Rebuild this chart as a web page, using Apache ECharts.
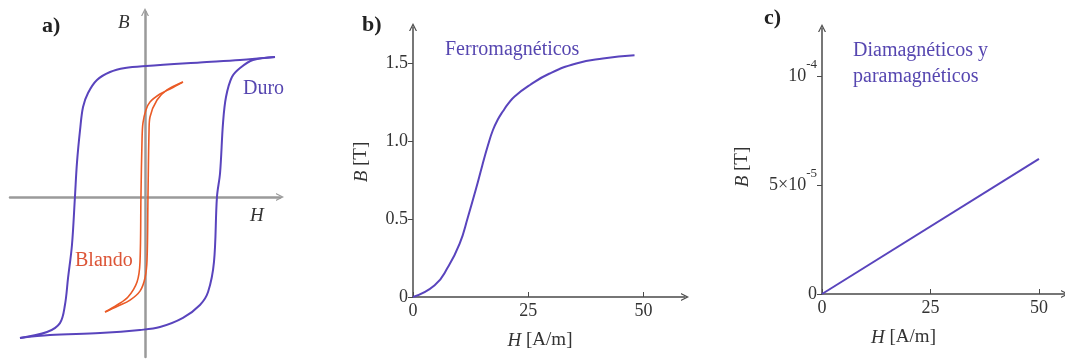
<!DOCTYPE html>
<html>
<head>
<meta charset="utf-8">
<script src="https://cdn.jsdelivr.net/npm/echarts@6/dist/echarts.min.js"></script>
<style>
  html, body { margin: 0; padding: 0; background: #fff; }
  #chart { width: 1065px; height: 360px; }
</style>
</head>
<body>
<div id="chart"></div>
<script>
// a) ciclos de histéresis, [H, B] en unidades arbitrarias
const duroBajada = [[9.63, 8.75], [7.04, 8.56], [4.07, 8.41], [0.07, 8.19], [-1.48, 8.06], [-2.59, 7.81], [-3.56, 7.31], [-4.22, 6.5], [-4.59, 5.63], [-4.81, 4.19], [-5.04, 2.13], [-5.19, 0], [-5.41, -3.0], [-5.7, -5.06], [-5.93, -6.75], [-6.3, -7.88], [-7.26, -8.44], [-9.26, -8.81]]
const duroSubida = [[-9.26, -8.81], [-7.04, -8.63], [-3.33, -8.5], [-0.37, -8.31], [1.11, -8.13], [2.81, -7.56], [4.07, -6.75], [4.67, -5.94], [5.11, -4.06], [5.33, 0], [5.56, 1.5], [5.78, 4.63], [6.0, 6.25], [6.44, 7.5], [7.04, 8.06], [8.0, 8.56], [9.63, 8.75]]
const blandoBajada = [[2.81, 7.19], [1.85, 6.75], [1.11, 6.44], [0.37, 5.94], [0.07, 5.44], [-0.15, 4.63], [-0.22, 3.56], [-0.3, 0], [-0.37, -4.06], [-0.59, -5.31], [-1.26, -6.25], [-2.07, -6.75], [-2.96, -7.19]]
const blandoSubida = [[-2.96, -7.19], [-2.0, -6.81], [-1.11, -6.44], [-0.37, -5.88], [0, -5.06], [0.15, -3.94], [0.22, 0], [0.3, 4.19], [0.37, 5.0], [0.89, 6.06], [1.63, 6.69], [2.81, 7.19]]

// b) curva de magnetización
const ferroH = [0, 4.7, 7.59, 10.12, 11.92, 13.73, 15.0, 16.26, 17.34, 18.4, 19.51, 20.7, 22.04, 25.29, 29.63, 35.41, 41.19, 48.05]
const ferroB = [0, 0.075, 0.192, 0.342, 0.513, 0.70, 0.84, 0.972, 1.07, 1.137, 1.19, 1.24, 1.285, 1.357, 1.432, 1.496, 1.528, 1.549]

// c) diamagnéticos y paramagnéticos
const diaH = [0, 50]
const diaB = [0, 6.2e-5]

// marcas de los ejes
const ticksH = [0, 25, 50]
const ticksB = [0, 0.5, 1.0, 1.5]
const ticksBc = [0, 5e-5, 1e-4]

const serif = 'Liberation Serif, DejaVu Serif, serif'
const purple = '#5944bd'
const orange = '#ea5b27'
const axisDark = '#4a4a4a'
const chevron = 'path://M0,10 L5,0 L10,10 L8.4,10 L5,3.2 L1.6,10 Z'

const zip = (xs, ys) => xs.map((x, i) => [x, ys[i]])

const chart = echarts.init(document.getElementById('chart'))

const plainAxis = (gridIndex, min, max, color, width) => ({
  type: 'value',
  gridIndex: gridIndex,
  min: min,
  max: max,
  axisLine: {
    show: true,
    onZero: true,
    symbol: ['none', chevron],
    symbolSize: [13, 8],
    lineStyle: { color: color, width: width }
  },
  axisTick: { show: false },
  axisLabel: { show: false },
  splitLine: { show: false }
})

const nameStyle = {
  fontFamily: serif,
  fontSize: 19,
  color: '#333',
  rich: {
    i: { fontFamily: serif, fontSize: 19, fontStyle: 'italic', color: '#333' }
  }
}

const labelStyle = {
  fontFamily: serif,
  fontSize: 18,
  color: '#333'
}

const xAxisB = Object.assign(plainAxis(1, 0, 59, axisDark, 1.5), {
  name: '{i|H} [A/m]',
  nameLocation: 'middle',
  nameGap: 34,
  nameTextStyle: Object.assign({ padding: [0, 18, 0, 0] }, nameStyle),
  axisTick: { show: true, inside: true, length: 5, customValues: ticksH, lineStyle: { color: axisDark } },
  axisLabel: Object.assign({ show: true, margin: 5, customValues: ticksH }, labelStyle)
})

const yAxisB = Object.assign(plainAxis(1, 0, 1.73, axisDark, 1.5), {
  name: '{i|B} [T]',
  nameLocation: 'middle',
  nameGap: 42,
  nameRotate: 90,
  nameTextStyle: nameStyle,
  axisTick: { show: true, length: 5, customValues: ticksB, lineStyle: { color: axisDark } },
  axisLabel: Object.assign({
    show: true,
    margin: 5,
    customValues: ticksB,
    formatter: v => (v === 0 ? '0' : v.toFixed(1))
  }, labelStyle)
})

const xAxisC = Object.assign(plainAxis(2, 0, 56, axisDark, 1.5), {
  name: '{i|H} [A/m]',
  nameLocation: 'middle',
  nameGap: 34,
  nameTextStyle: Object.assign({ padding: [0, 80, 0, 0] }, nameStyle),
  axisTick: { show: true, inside: true, length: 5, customValues: ticksH, lineStyle: { color: axisDark } },
  axisLabel: Object.assign({ show: true, margin: 5, customValues: ticksH }, labelStyle)
})

const yAxisC = Object.assign(plainAxis(2, 0, 1.22e-4, axisDark, 1.5), {
  name: '{i|B} [T]',
  nameLocation: 'middle',
  nameGap: 70,
  nameRotate: 90,
  nameTextStyle: Object.assign({ padding: [0, 12, 0, 0] }, nameStyle),
  axisTick: { show: true, length: 5, customValues: ticksBc, lineStyle: { color: axisDark } },
  axisLabel: Object.assign({
    show: true,
    margin: 5,
    customValues: ticksBc,
    formatter: v => {
      if (v === 0) return '{n|0}'
      if (Math.abs(v - 5e-5) < 1e-9) return '{n|5×10}{s|-5}'
      return '{n|10}{s|-4}'
    },
    rich: {
      n: { fontFamily: serif, fontSize: 18, color: '#333', lineHeight: 36 },
      s: { fontFamily: serif, fontSize: 13, color: '#333', lineHeight: 13, verticalAlign: 'top' }
    }
  }, labelStyle)
})

const lineSeries = (xi, data, color, width, smooth) => ({
  type: 'line',
  xAxisIndex: xi,
  yAxisIndex: xi,
  data: data,
  smooth: smooth,
  showSymbol: false,
  silent: true,
  lineStyle: { color: color, width: width }
})

const txt = (text, left, top, font, fill, extra) => ({
  type: 'text',
  left: left,
  top: top,
  silent: true,
  style: Object.assign({ text: text, font: font, fill: fill }, extra || {})
})

chart.setOption({
  animation: false,
  backgroundColor: '#fff',
  grid: [
    { left: 10, top: 12, width: 270, height: 345 },
    { left: 413, top: 27, width: 272, height: 270 },
    { left: 822, top: 28, width: 246, height: 266 }
  ],
  xAxis: [plainAxis(0, -10, 10, '#9a9a9a', 2.5), xAxisB, xAxisC],
  yAxis: [plainAxis(0, -10, 11.5625, '#9a9a9a', 2.5), yAxisB, yAxisC],
  series: [
    lineSeries(0, duroBajada, purple, 2, 0.35),
    lineSeries(0, duroSubida, purple, 2, 0.35),
    lineSeries(0, blandoBajada, orange, 1.6, 0.35),
    lineSeries(0, blandoSubida, orange, 1.6, 0.35),
    lineSeries(1, zip(ferroH, ferroB), purple, 2, 0.5),
    lineSeries(2, zip(diaH, diaB), purple, 2, false)
  ],
  graphic: [
    txt('a)', 42, 15, 'bold 22px ' + serif, '#222'),
    txt('B', 118, 13, 'italic 19px ' + serif, '#333'),
    txt('H', 250, 206, 'italic 19px ' + serif, '#333'),
    txt('Duro', 243, 79, '20px ' + serif, '#5646b0'),
    txt('Blando', 75, 251, '20px ' + serif, '#dc5436'),
    txt('b)', 362, 14, 'bold 22px ' + serif, '#222'),
    txt('Ferromagnéticos', 445, 40, '20px ' + serif, '#5646b0'),
    txt('c)', 764, 7, 'bold 22px ' + serif, '#222'),
    txt('Diamagnéticos y\nparamagnéticos', 853, 38, '20px ' + serif, '#5646b0', { lineHeight: 26 })
  ]
})
</script>
</body>
</html>
